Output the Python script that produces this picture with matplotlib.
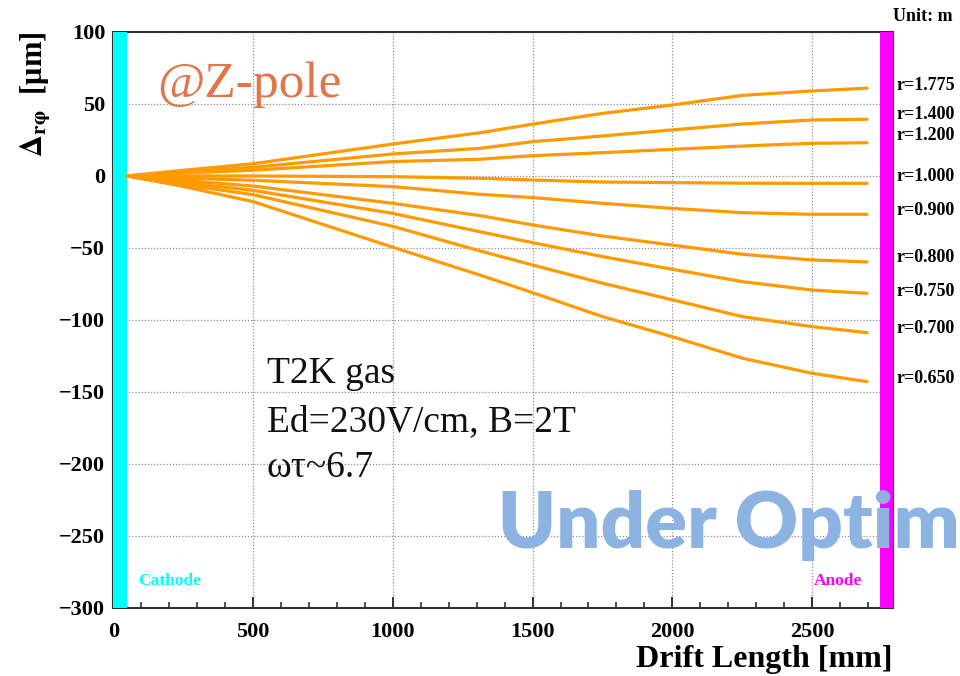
import matplotlib
matplotlib.use("Agg")
import matplotlib.pyplot as plt
from matplotlib.ticker import MultipleLocator
import matplotlib.transforms as mtransforms

# ---- data ----
drift_mm = [47, 226, 500, 1000, 1311, 1500, 1751, 2000, 2252, 2500, 2697]
radii = ["1.775", "1.400", "1.200", "1.000", "0.900", "0.800", "0.750", "0.700", "0.650"]
d_1775 = [0, 3.5, 8.5, 22.2, 30, 36, 43.5, 49.3, 56, 59, 61]
d_1400 = [0, 2.7, 6, 15.3, 19.2, 23.8, 27.8, 32, 36.1, 38.9, 39.4]
d_1200 = [0, 1.8, 4, 10, 11.6, 14.1, 16.2, 18.5, 20.8, 22.7, 23.1]
d_1000 = [0, 0, 0, -0.5, -1.6, -2.8, -4.2, -4.6, -5, -5.1, -5.1]
d_0900 = [0, -1.3, -3, -7.4, -12.7, -15, -19, -22.5, -25.5, -26.6, -26.6]
d_0800 = [0, -2.8, -7, -19, -27.5, -34, -41.7, -48, -54.4, -58.3, -59.7]
d_0750 = [0, -4, -10, -26, -38.7, -46.3, -56, -64.8, -73.4, -79.2, -81.5]
d_0700 = [0, -5.3, -13, -35, -52, -61.8, -74.5, -86, -97.7, -104.6, -108.8]
d_0650 = [0, -6.3, -17.8, -49.5, -68.8, -81, -97.7, -111.6, -126.6, -137, -142.8]
series = [d_1775, d_1400, d_1200, d_1000, d_0900, d_0800, d_0750, d_0700, d_0650]
label_y = [63, 42.4, 27.8, -0.7, -24.3, -56.9, -79.9, -105.6, -140.3]

cathode_range = (0, 47)
anode_range = (2745, 2790)
xlim = (0, 2790)
ylim = (-300, 100)

plt.rcParams['mathtext.fontset'] = 'stix'
serif = 'Liberation Serif'

fig = plt.figure(figsize=(9.6, 6.76), dpi=100)
ax = fig.add_axes([0.1182, 0.1006, 0.9302 - 0.1182, 0.9527 - 0.1006])
ax.set_xlim(*xlim)
ax.set_ylim(*ylim)

ax.axvspan(*cathode_range, color='#00FFFF', zorder=3, lw=0)
ax.axvspan(*anode_range, color='#FF00FF', zorder=3, lw=0)

for ys in series:
    ax.plot(drift_mm, ys, color='#FF9A00', lw=2.3, zorder=4, solid_capstyle='round',
            solid_joinstyle='round')

ax.grid(True, which='major', linestyle=(0, (1, 1.5)), color='#909090', lw=0.9)
ax.xaxis.set_major_locator(MultipleLocator(500))
ax.xaxis.set_minor_locator(MultipleLocator(100))
ax.yaxis.set_major_locator(MultipleLocator(50))
ax.yaxis.set_minor_locator(MultipleLocator(10))
ax.tick_params(which='major', direction='in', length=8, width=1.3, color='#222222')
ax.tick_params(which='minor', direction='in', length=4, width=1.1, color='#222222')
ax.tick_params(axis='y', which='major', length=10)
ax.tick_params(axis='x', which='both', pad=10)
ax.tick_params(axis='y', which='both', pad=6)
ax.tick_params(top=False, right=False)
for lab in ax.get_xticklabels() + ax.get_yticklabels():
    lab.set_fontfamily(serif)
    lab.set_fontweight('bold')
    lab.set_fontsize(16)
for sp in ax.spines.values():
    sp.set_linewidth(1.5)
    sp.set_color('#333333')

ax.set_xlabel('Drift Length [mm]', fontsize=23, fontweight='bold', family=serif, loc='right', labelpad=2)
ax.set_ylabel(r'$\mathbf{\Delta_{r\varphi}}$  [μm]', fontsize=22, fontweight='bold', family=serif, loc='top')
ax.yaxis.set_label_coords(-0.078, 1.0)

trans = mtransforms.blended_transform_factory(ax.transAxes, ax.transData)
for r, yv in zip(radii, label_y):
    ax.text(1.005, yv, 'r=' + r, transform=trans, ha='left', va='center', fontsize=13,
            fontweight='bold', family=serif, clip_on=False)

fig.text(0.930, 0.975, 'Unit: m', ha='left', va='center', fontsize=13, fontweight='bold', family=serif)

ax.text(88, -281, 'Cathode', color='#00FFFF', fontsize=12.5, fontweight='bold', family=serif, va='center', ha='left', zorder=5)
ax.text(2508, -281, 'Anode', color='#FF00FF', fontsize=12.5, fontweight='bold', family=serif, va='center', ha='left', zorder=5)

ax.text(155, 55, '@Z-pole', color='#E2754A', fontsize=37, family=serif, va='baseline', ha='left', zorder=5)
ax.text(549, -143.75, 'T2K gas', color='#111111', fontsize=27, family=serif, va='baseline', ha='left', zorder=5)
ax.text(549, -176.9, 'Ed=230V/cm, B=2T', color='#111111', fontsize=27, family=serif, va='baseline', ha='left', zorder=5)
ax.text(549, -208.8, 'ωτ~6.7', color='#111111', fontsize=27, family=serif, va='baseline', ha='left', zorder=5)

fig.text(0.519, 0.1893, 'Under Optim', color='#8DB3E2', fontsize=56, family='Lato', fontweight='heavy',
         va='baseline', ha='left', zorder=10)

fig.savefig('out.png', dpi=100)
